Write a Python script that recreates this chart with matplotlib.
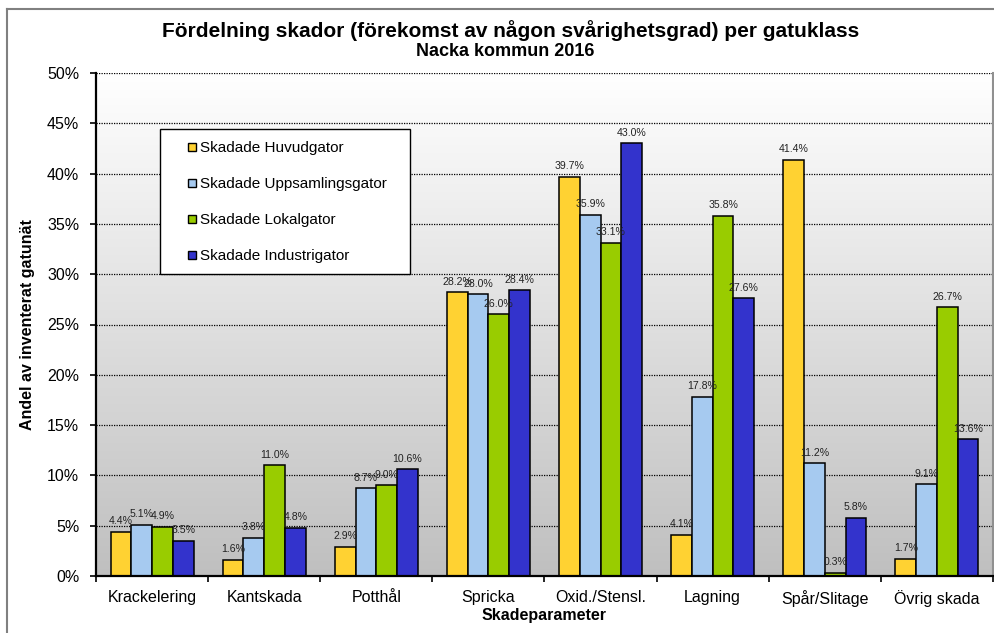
# Fördelning skador per gatuklass, Nacka kommun 2016
import numpy as np
import matplotlib
matplotlib.use('Agg')
import matplotlib.pyplot as plt
from matplotlib.lines import Line2D
from matplotlib.patches import Rectangle

plt.rcParams['font.family'] = ['Liberation Sans', 'DejaVu Sans']

# data (andel i procent)
kategorier = ['Krackelering', 'Kantskada', 'Potthål', 'Spricka',
              'Oxid./Stensl.', 'Lagning', 'Spår/Slitage', 'Övrig skada']
huvudgator = [4.4, 1.6, 2.9, 28.2, 39.7, 4.1, 41.4, 1.7]
uppsamlingsgator = [5.1, 3.8, 8.7, 28.0, 35.9, 17.8, 11.2, 9.1]
lokalgator = [4.9, 11.0, 9.0, 26.0, 33.1, 35.8, 0.3, 26.7]
industrigator = [3.5, 4.8, 10.6, 28.4, 43.0, 27.6, 5.8, 13.6]

serier = ['Skadade Huvudgator', 'Skadade Uppsamlingsgator',
          'Skadade Lokalgator', 'Skadade Industrigator']
farger = ['#FFD232', '#A6CAF0', '#99CC00', '#3333CC']
y_ticks = [0, 5, 10, 15, 20, 25, 30, 35, 40, 45, 50]

W, H = 995, 633
fig = plt.figure(figsize=(W / 100, H / 100), dpi=100)
ax = fig.add_axes([96 / W, 1 - 576 / H, (993 - 96) / W, (576 - 73) / H])

# bakgrund: gradient vit -> grå
grad = np.linspace(1.0, 0.75, 256).reshape(-1, 1)
ax.imshow(np.dstack([grad, grad, grad]), aspect='auto',
          extent=(-0.5, len(kategorier) - 0.5, 0, 50), zorder=0)

x = np.arange(len(kategorier))
bw = 0.185
for i, (vals, c) in enumerate(zip([huvudgator, uppsamlingsgator, lokalgator, industrigator], farger)):
    pos = x + (i - 1.5) * bw
    ax.bar(pos, vals, width=bw, color=c, edgecolor='black', linewidth=1.1, zorder=2)
    for px, v in zip(pos, vals):
        ax.annotate(f'{v:.1f}%', (px, v), xytext=(0, 5.5), textcoords='offset points',
                    ha='center', va='baseline', fontsize=7.6, color='#222222', zorder=3)

ax.set_xlim(-0.5, len(kategorier) - 0.5)
ax.set_ylim(0, 50)
ax.set_yticks(y_ticks)
ax.set_yticklabels([f'{t}%' for t in y_ticks], fontsize=11.5)
ax.set_xticks(x)
ax.set_xticklabels(kategorier, fontsize=11.5)
ax.set_xticks(np.arange(-0.5, len(kategorier)), minor=True)
ax.tick_params(axis='x', which='major', length=0, pad=10)
ax.tick_params(axis='x', which='minor', length=4, width=1.2, direction='out')
ax.tick_params(axis='y', length=4, width=1.2, pad=8)

ax.grid(axis='y', color='black', linestyle=(0, (1, 1)), linewidth=0.9)
ax.set_axisbelow(True)

ax.spines['top'].set_visible(False)
ax.spines['right'].set_color('#909090')
ax.spines['right'].set_linewidth(1.5)
ax.spines['left'].set_linewidth(1.6)
ax.spines['bottom'].set_linewidth(1.6)

ax.set_xlabel('Skadeparameter', fontsize=11.5, fontweight='bold', labelpad=1)
ax.set_ylabel('Andel av inventerat gatunät', fontsize=11.5, fontweight='bold')
ax.yaxis.set_label_coords(-0.068, 0.5)

fig.text(0.513, 1 - 31 / H, 'Fördelning skador (förekomst av någon svårighetsgrad) per gatuklass',
         ha='center', va='center', fontsize=15, fontweight='bold')
fig.text(0.508, 1 - 51 / H, 'Nacka kommun 2016',
         ha='center', va='center', fontsize=13, fontweight='bold')

# legend med egen ram
ax.add_patch(Rectangle((160 / W, 1 - 274 / H), 250 / W, 145 / H, transform=fig.transFigure,
                       facecolor='white', edgecolor='black', linewidth=1.0, zorder=4))
handles = [Line2D([], [], marker='s', linestyle='none', markersize=6,
                  markerfacecolor=c, markeredgecolor='black', markeredgewidth=1.0)
           for c in farger]
ax.legend(handles, serier, loc='upper left', bbox_to_anchor=(187 / W, 1 - 141 / H),
          bbox_transform=fig.transFigure, frameon=False, fontsize=11,
          borderpad=0, borderaxespad=0, handlelength=0.6, handletextpad=0.25,
          labelspacing=1.45).set_zorder(5)

# yttre ram
fig.add_artist(Line2D([7 / W, 7 / W], [0, 1 - 9 / H], color='#808080', linewidth=1.5))
fig.add_artist(Line2D([7 / W, 1], [1 - 9 / H, 1 - 9 / H], color='#808080', linewidth=1.5))

fig.savefig('out.png', dpi=100)
